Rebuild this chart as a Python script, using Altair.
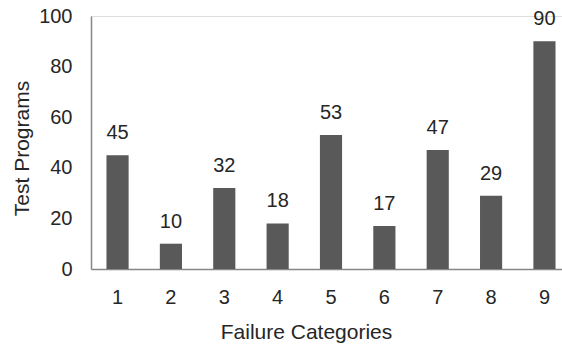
import altair as alt
import pandas as pd

categories = ["1", "2", "3", "4", "5", "6", "7", "8", "9"]
values = [45, 10, 32, 18, 53, 17, 47, 29, 90]

df = pd.DataFrame({"cat": categories, "val": values})

FONT = "Liberation Sans"
TXT = "#262626"

x = alt.X(
    "cat:N",
    sort=categories,
    scale=alt.Scale(range=[0, 480], paddingInner=0.585, paddingOuter=0.29),
    axis=alt.Axis(
        title="Failure Categories",
        labelAngle=0,
        tickSize=0,
        ticks=False,
        labelPadding=28,
        labelBaseline="middle",
        labelFontSize=20,
        labelFont=FONT,
        labelColor=TXT,
        titleFont=FONT,
        titleFontSize=21,
        titleFontWeight="normal",
        titleColor=TXT,
        titleX=215,
        titleY=63,
        titleBaseline="middle",
        titleAlign="center",
        domainColor="#868686",
        domainWidth=1.5,
    ),
)

y = alt.Y(
    "val:Q",
    scale=alt.Scale(domain=[0, 100], nice=False),
    axis=alt.Axis(
        title="Test Programs",
        values=[0, 20, 40, 60, 80, 100],
        grid=False,
        ticks=False,
        tickSize=0,
        labelPadding=19,
        labelFontSize=20,
        labelFont=FONT,
        labelColor=TXT,
        titleFont=FONT,
        titleFontSize=21,
        titleFontWeight="normal",
        titleColor=TXT,
        titleAngle=-90,
        titleX=-69,
        titleY=132,
        titleAlign="center",
        titleBaseline="middle",
        domainColor="#868686",
        domainWidth=1.5,
    ),
)

bars = alt.Chart(df).mark_bar(color="#595959").encode(x=x, y=y)

labels = alt.Chart(df).mark_text(
    baseline="alphabetic", dy=-16, fontSize=20, font=FONT, color=TXT
).encode(x=alt.X("cat:N", sort=categories), y="val:Q", text="val:Q")

chart = (
    alt.layer(bars, labels)
    .properties(
        width=471,
        height=253,
        autosize=alt.AutoSizeParams(type="none"),
        padding={"left": 91, "top": 16, "right": 0, "bottom": 76},
    )
    .configure_view(stroke=None)
    .configure(background="white")
)

chart.save("out.html", embed_options={"renderer": "svg", "actions": False})
